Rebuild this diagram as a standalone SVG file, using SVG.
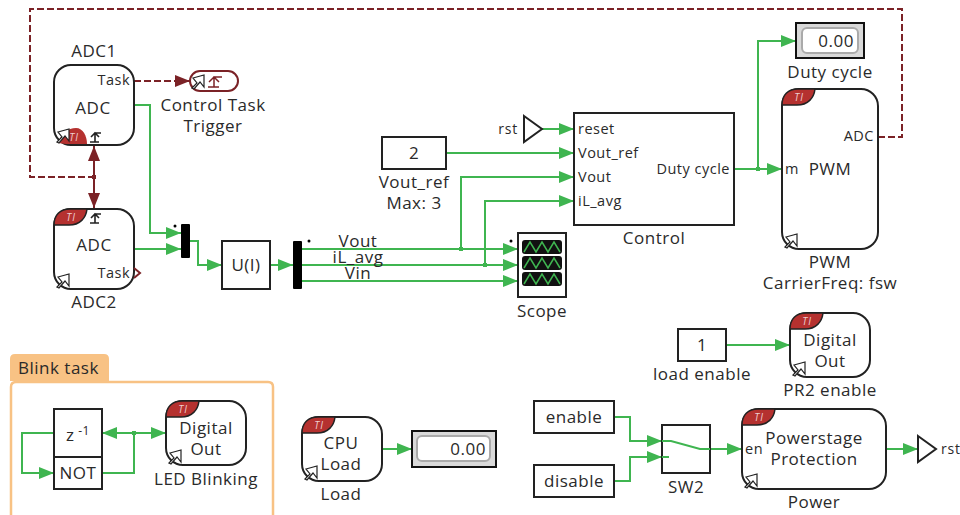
<svg xmlns="http://www.w3.org/2000/svg" width="960" height="515" viewBox="0 0 960 515">
<style>
text{font-family:"Open Sans","Noto Sans",sans-serif;font-size:17px;fill:#2a2a2a;text-anchor:middle;letter-spacing:.5px}
.s{font-size:14.5px}
.m{font-size:14px;letter-spacing:.8px}
.l{text-anchor:start}
.r{text-anchor:end}
.b{fill:#fff;stroke:#222;stroke-width:2}
.o{fill:none;stroke:#222;stroke-width:2}
.g{fill:none;stroke:#3fb550;stroke-width:2}
.ga{marker-end:url(#ag)}
.d{fill:none;stroke:#7b2226;stroke-width:2}
.ds{stroke-dasharray:7 3}
.ti{font-size:10px;font-style:italic;fill:#eecfcf;letter-spacing:1px}
.disp{fill:#d9d9d9;stroke:#111;stroke-width:2}
.in{fill:#fff;stroke:#aaa;stroke-width:2}
.j{fill:#3fb550}
</style>
<defs>
<marker id="ag" markerUnits="userSpaceOnUse" markerWidth="16" markerHeight="12" refX="15" refY="6" orient="auto"><path d="M0 0L15 6L0 12Z" fill="#3fb550"/></marker>
<marker id="ar" markerUnits="userSpaceOnUse" markerWidth="16" markerHeight="12" refX="15" refY="6" orient="auto"><path d="M0 0L15 6L0 12Z" fill="#7b2226"/></marker>
<symbol id="link" width="14" height="16" viewBox="0 0 14 16" overflow="visible"><path d="M1 15L6 10L2 5L13 2L13 14L9 9L3 16Z" fill="#fff" stroke="#222" stroke-width="1.200"/></symbol>
<symbol id="tib" width="34" height="17" viewBox="0 0 34 17" overflow="visible"><path d="M0 16C0 6 6 0 16 0H33C32 9 26 16 15 16Z" fill="#b5312f" stroke="#222" stroke-width="1.500"/></symbol>
<symbol id="trg" width="14" height="14" viewBox="0 0 14 14" overflow="visible"><path d="M1 12H10M6 12V3H12M2 7L6 3L10 7" fill="none" stroke="#222" stroke-width="1.600"/></symbol>
</defs>

<g id="connectors">
<path class="d ds" d="M878 137H902V9H30V177H94"/>
<path class="d" d="M94 177V146" marker-end="url(#ar)"/>
<path class="d" d="M94 177V208" marker-end="url(#ar)"/>
<rect x="92" y="175" width="4" height="4" fill="#7b2226"/>
<path class="d ds" d="M134 81H190" marker-end="url(#ar)"/>
<path class="g ga" d="M135 105H150V233H181"/>
<path class="g ga" d="M135 249H181"/>
<path class="g ga" d="M190 241H198V265H222"/>
<path class="g ga" d="M270 265H293"/>
<path class="g ga" d="M302 249H518"/>
<path class="g ga" d="M302 265H518"/>
<path class="g ga" d="M302 281H518"/>
<path class="g ga" d="M461 249V177H574"/>
<path class="g ga" d="M485 265V201H574"/>
<rect class="j" x="459" y="247" width="4" height="4"/>
<rect class="j" x="483" y="263" width="4" height="4"/>
<path class="g ga" d="M446 153H574"/>
<path class="g ga" d="M542 129H574"/>
<path class="g ga" d="M734 169H782"/>
<path class="g ga" d="M758 169V41H796"/>
<rect class="j" x="756" y="167" width="4" height="4"/>
<path class="g ga" d="M726 345H790"/>
<path class="g ga" d="M54 433H22V473H54"/>
<path class="g" d="M102 473H134V433"/>
<path class="g ga" d="M134 433H102"/>
<path class="g ga" d="M134 433H166"/>
<rect class="j" x="132" y="431" width="4" height="4"/>
<path class="g ga" d="M382 449H412"/>
<path class="g ga" d="M614 417H630V441H662"/>
<path class="g ga" d="M614 481H630V457H662"/>
<path class="g ga" d="M710 449H742"/>
<path class="g ga" d="M886 449H918"/>
</g>

<g id="adc1">
<rect class="b" x="54" y="65" width="80" height="80" rx="17"/>
<path d="M58 143C61 134 68 128 76 128C83 128 87 136 87 144H66Z" fill="#b5312f"/>
<text class="ti" x="74" y="141">TI</text>
<use href="#link" x="56" y="127"/>
<use href="#trg" x="89" y="130"/>
<text x="94" y="57">ADC1</text>
<text x="93" y="114">ADC</text>
<text class="s r" x="130" y="85">Task</text>
</g>
<g id="adc2">
<rect class="b" x="54" y="209" width="80" height="80" rx="17"/>
<use href="#tib" x="54" y="209"/>
<text class="ti" x="71" y="221">TI</text>
<use href="#trg" x="89" y="211"/>
<use href="#link" x="56" y="272"/>
<path class="d" d="M134 268L140 273L134 278"/>
<text x="94" y="251">ADC</text>
<text class="s r" x="130" y="278">Task</text>
<text x="94" y="308">ADC2</text>
</g>
<g id="trigger">
<rect x="190" y="71" width="48" height="20" rx="10" fill="#fff" stroke="#7b2226" stroke-width="2"/>
<use href="#link" x="191" y="73"/>
<path d="M208 87H219M214 87V77H222M209 82L214 77L219 82" fill="none" stroke="#7b2226" stroke-width="1.500"/>
<text x="213" y="111">Control Task</text>
<text x="213" y="132">Trigger</text>
</g>
<g id="mux">
<rect x="181" y="224" width="9" height="34" rx="1" fill="#000"/>
<circle cx="175" cy="226" r="1.500" fill="#000"/>
</g>
<g id="ui">
<rect class="b" x="222" y="241" width="48" height="48"/>
<text x="246" y="271">U(I)</text>
</g>
<g id="demux">
<rect x="293" y="241" width="9" height="48" rx="1" fill="#000"/>
<circle cx="309" cy="241" r="1.500" fill="#000"/>
<text x="358" y="247">Vout</text>
<text x="358" y="263">iL_avg</text>
<text x="358" y="279">Vin</text>
</g>
<g id="scope">
<rect class="b" x="518" y="233" width="48" height="64"/>
<g fill="#111">
<rect x="522" y="240" width="40" height="14" rx="3"/>
<rect x="522" y="256" width="40" height="14" rx="3"/>
<rect x="522" y="272" width="40" height="14" rx="3"/>
</g>
<g fill="none" stroke="#3fb550" stroke-width="1.500">
<path d="M524 252L530 242L536 252L542 242L548 252L554 242L560 252"/>
<path d="M524 268L530 258L536 268L542 258L548 268L554 258L560 268"/>
<path d="M524 284L530 274L536 284L542 274L548 284L554 274L560 284"/>
</g>
<circle cx="511" cy="241" r="1.500" fill="#000"/>
<text x="542" y="317">Scope</text>
</g>
<g id="vout-ref">
<rect class="b" x="382" y="137" width="64" height="32"/>
<text x="414" y="159">2</text>
<text x="414" y="188">Vout_ref</text>
<text x="414" y="209">Max: 3</text>
</g>
<g id="rst-in">
<path class="b" d="M524 116L542 129L524 142Z"/>
<text class="m r" x="518" y="134">rst</text>
</g>
<g id="control">
<rect class="b" x="574" y="113" width="160" height="112"/>
<text class="s l" x="578" y="134">reset</text>
<text class="s l" x="578" y="158">Vout_ref</text>
<text class="s l" x="578" y="182">Vout</text>
<text class="s l" x="578" y="206">iL_avg</text>
<text class="s r" x="730" y="174">Duty cycle</text>
<text x="654" y="244">Control</text>
</g>
<g id="duty">
<rect class="disp" x="796" y="23" width="68" height="35"/>
<rect class="in" x="802" y="28" width="56" height="25" rx="5"/>
<text class="r" x="854" y="47">0.00</text>
<text x="830" y="78">Duty cycle</text>
</g>
<g id="pwm">
<rect class="b" x="782" y="89" width="96" height="160" rx="17"/>
<use href="#tib" x="782" y="89"/>
<text class="ti" x="799" y="101">TI</text>
<use href="#link" x="784" y="232"/>
<text class="s r" x="874" y="141">ADC</text>
<text class="s l" x="785" y="174">m</text>
<text x="830" y="175">PWM</text>
<text x="830" y="268">PWM</text>
<text x="830" y="289">CarrierFreq: fsw</text>
</g>
<g id="load-enable">
<rect class="b" x="678" y="329" width="48" height="32"/>
<text x="702" y="351">1</text>
<text x="702" y="380">load enable</text>
</g>
<g id="pr2">
<rect class="b" x="790" y="313" width="80" height="64" rx="17"/>
<use href="#tib" x="790" y="313"/>
<text class="ti" x="807" y="325">TI</text>
<use href="#link" x="792" y="360"/>
<text x="830" y="346">Digital</text>
<text x="830" y="367">Out</text>
<text x="830" y="396">PR2 enable</text>
</g>
<g id="power">
<rect class="b" x="742" y="409" width="144" height="80" rx="17"/>
<use href="#tib" x="742" y="409"/>
<text class="ti" x="759" y="421">TI</text>
<use href="#link" x="744" y="472"/>
<text class="s l" x="745" y="454">en</text>
<text x="814" y="444">Powerstage</text>
<text x="814" y="465">Protection</text>
<text x="814" y="508">Power</text>
</g>
<g id="rst-out">
<path class="b" d="M918 436L936 449L918 462Z"/>
<text class="m l" x="941" y="454">rst</text>
</g>
<g id="sw2">
<rect class="o" x="662" y="425" width="48" height="48"/>
<path class="g" d="M662 441H671L700 449H710M662 457H669"/>
<text x="686" y="493">SW2</text>
</g>
<g id="enable">
<rect class="b" x="534" y="401" width="80" height="32"/>
<text x="574" y="423">enable</text>
</g>
<g id="disable">
<rect class="b" x="534" y="465" width="80" height="32"/>
<text x="574" y="487">disable</text>
</g>
<g id="cpu">
<rect class="b" x="302" y="417" width="80" height="64" rx="17"/>
<use href="#tib" x="302" y="417"/>
<text class="ti" x="319" y="429">TI</text>
<use href="#link" x="304" y="464"/>
<text x="341" y="449">CPU</text>
<text x="341" y="470">Load</text>
<text x="341" y="500">Load</text>
</g>
<g id="load-display">
<rect class="disp" x="412" y="431" width="84" height="36"/>
<rect class="in" x="417" y="436" width="73" height="25" rx="5"/>
<text class="r" x="486" y="455">0.00</text>
</g>
<g id="blink">
<path d="M10 381V359Q10 354 15 354H104Q109 354 109 359V381Z" fill="#f8c284"/>
<path d="M11 515V387Q11 382 16 382H268Q273 382 273 387V515" fill="none" stroke="#f8c284" stroke-width="2.500"/>
<text class="l" x="18" y="374">Blink task</text>
</g>
<g id="z1">
<rect class="b" x="54" y="409" width="48" height="48"/>
<text x="78" y="441">z<tspan font-size="12" dy="-6"> -1</tspan></text>
</g>
<g id="not">
<rect class="b" x="54" y="457" width="48" height="32"/>
<text x="78" y="479">NOT</text>
</g>
<g id="led">
<rect class="b" x="166" y="401" width="80" height="64" rx="17"/>
<use href="#tib" x="166" y="401"/>
<text class="ti" x="183" y="413">TI</text>
<use href="#link" x="168" y="448"/>
<text x="206" y="434">Digital</text>
<text x="206" y="455">Out</text>
<text x="206" y="485">LED Blinking</text>
</g>
</svg>
